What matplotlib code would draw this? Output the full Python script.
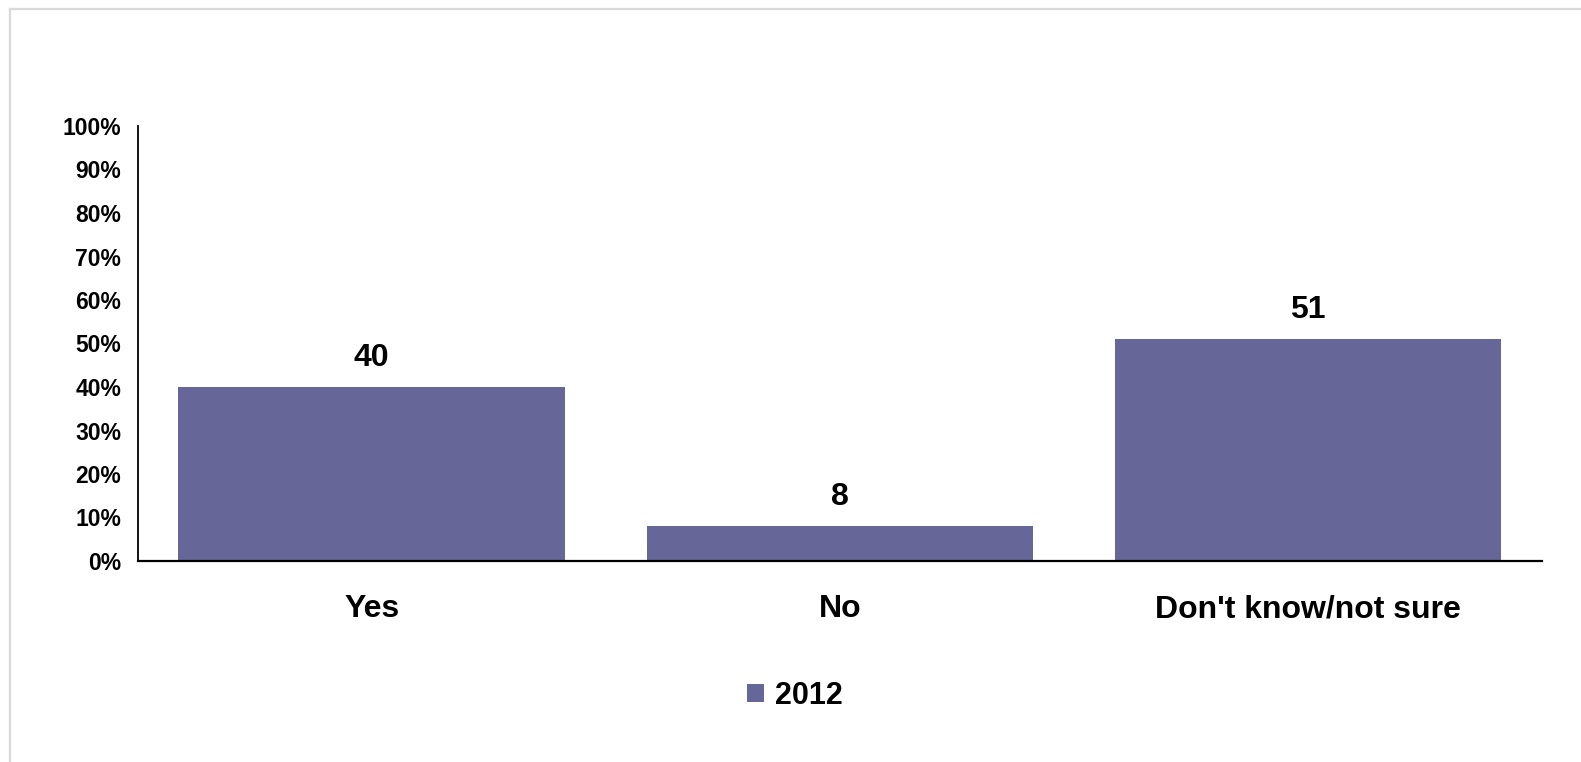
import matplotlib
matplotlib.use("Agg")
import matplotlib.pyplot as plt
from matplotlib.lines import Line2D
from matplotlib.patches import Patch

categories = ["Yes", "No", "Don't know/not sure"]
values_2012 = [40, 8, 51]
y_ticks = [0, 10, 20, 30, 40, 50, 60, 70, 80, 90, 100]
y_tick_labels = [f"{t}%" for t in y_ticks]
series_name = "2012"

bar_color = "#666699"
W, H, DPI = 1581, 762, 100

plt.rcParams["font.family"] = ["Liberation Sans", "DejaVu Sans"]
plt.rcParams["font.weight"] = "bold"

fig = plt.figure(figsize=(W / DPI, H / DPI), dpi=DPI)
fig.patch.set_facecolor("white")

# light frame around the chart area (top and left edges)
fig.add_artist(Line2D([10 / W, 10 / W], [0, 1 - 9 / H], color="#d9d9d9",
                      lw=1.6, transform=fig.transFigure))
fig.add_artist(Line2D([10 / W, 1], [1 - 9 / H, 1 - 9 / H], color="#d9d9d9",
                      lw=1.6, transform=fig.transFigure))

ax = fig.add_axes([137.7 / W, 1 - 561 / H, (1542 - 137.7) / W, (561 - 126) / H])
x = list(range(len(categories)))
bars = ax.bar(x, values_2012, width=0.826, color=bar_color, label=series_name, zorder=2)

ax.set_xlim(-0.5, len(categories) - 0.5)
ax.set_ylim(0, 100)
ax.set_yticks(y_ticks)
ax.set_yticklabels(y_tick_labels, fontsize=16.5, fontweight="bold")
ax.set_xticks(x)
ax.set_xticklabels(categories, fontsize=23, fontweight="bold")
ax.tick_params(axis="y", length=0, pad=12)
ax.tick_params(axis="x", length=0, pad=24)

for side in ("top", "right"):
    ax.spines[side].set_visible(False)
ax.spines["left"].set_linewidth(1.3)
ax.spines["bottom"].set_linewidth(1.6)
ax.spines["left"].set_color("black")
ax.spines["bottom"].set_color("black")

for rect, v in zip(bars, values_2012):
    ax.annotate(f"{v}", (rect.get_x() + rect.get_width() / 2, v),
                xytext=(0, 14), textcoords="offset pixels",
                ha="center", va="bottom", fontsize=23, fontweight="bold")

handle = Patch(facecolor=bar_color, edgecolor="none")
fig.legend([handle], [series_name], loc="center",
           bbox_to_anchor=(795 / W, 1 - 696 / H), frameon=False,
           prop={"size": 22, "weight": "bold"},
           handlelength=0.55, handleheight=0.55, handletextpad=0.35)

fig.savefig("out.png", dpi=DPI, facecolor="white")
